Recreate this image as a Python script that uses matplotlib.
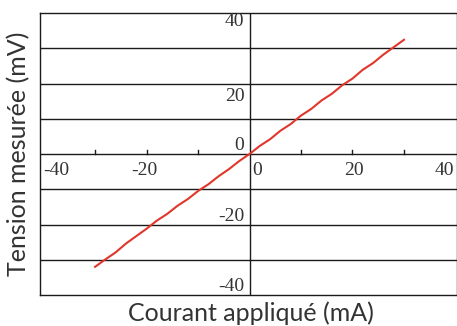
import matplotlib
matplotlib.use("Agg")
import matplotlib.pyplot as plt

# courant (mA) / tension (mV)
courant = [-30, -28, -26, -24, -22, -20, -18, -16, -14, -12, -10, -8, -6, -4, -2,
           0, 2, 4, 6, 8, 10, 12, 14, 16, 18, 20, 22, 24, 26, 28, 30]
tension = [-32.0, -29.9, -27.9, -25.4, -23.3, -21.2, -18.9, -17.0, -14.7, -12.8,
           -10.5, -8.6, -6.3, -4.3, -2.0, 0.0, 2.3, 4.2, 6.6, 8.5, 10.9, 12.8,
           15.2, 17.1, 19.5, 21.4, 23.9, 25.8, 28.2, 30.3, 32.4]

grid_y = [-30, -20, -10, 0, 10, 20, 30]
xtick_minor = [-30, -20, -10, 10, 20, 30]
xlabels = ["-40", "-20", "0", "20", "40"]
xlabel_pos = [-37.6, -20.4, 1.5, 20.3, 37.8]
ylabels = ["40", "20", "0", "-20", "-40"]
ylabel_pos = [37.5, 16.4, 2.3, -17.6, -37.6]

fig = plt.figure(figsize=(4.57, 3.26), dpi=100)
ax = fig.add_axes([40/457, 1 - 295/326, 417/457, (295 - 13)/326])
ax.set_xlim(-40.7, 40.3)
ax.set_ylim(-40, 40)

lc = "#1a1a1a"
for y in grid_y:
    ax.axhline(y, color=lc, lw=1.0, zorder=1)
ax.axvline(0, color=lc, lw=1.0, zorder=1)
for s in ax.spines.values():
    s.set_color(lc)
    s.set_linewidth(1.0)

ax.set_xticks([])
ax.set_yticks([])
# little ticks on the zero line
for x in xtick_minor:
    ax.plot([x, x], [0, 1.1], color=lc, lw=1.0, zorder=1)

ax.plot(courant, tension, color="#e0362b", lw=1.5, zorder=3)

tick_font = dict(family="Liberation Serif", fontsize=14, color="#333333")
for lab, x in zip(xlabels, xlabel_pos):
    ax.text(x, -4.6, lab, ha="center", va="center", **tick_font)
for lab, y in zip(ylabels, ylabel_pos):
    ax.text(-1.0, y, lab, ha="right", va="center", **tick_font)

fig.text(251/457, 1 - 313/326, "Courant appliqué (mA)", ha="center", va="center",
         family="Lato", fontsize=18, color="#333333")
fig.text(19/457, 1 - 154/326, "Tension mesurée (mV)", ha="center", va="center",
         rotation=90, family="Lato", fontsize=18, color="#333333")

fig.savefig("out.png", dpi=100)
